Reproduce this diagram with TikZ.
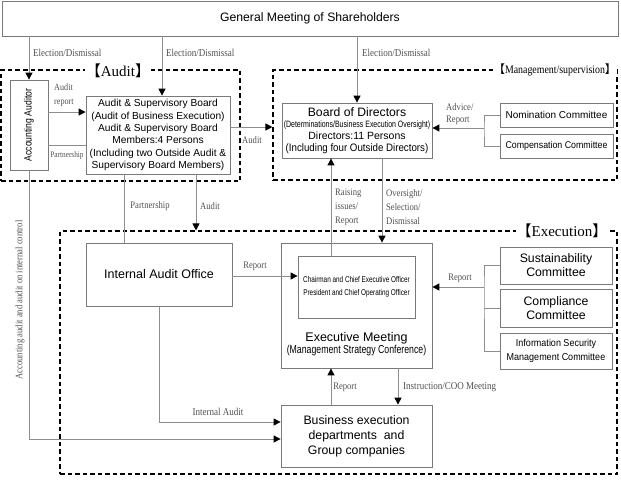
\documentclass[tikz,border=0pt]{standalone}
\usepackage{fontspec}
\setmainfont{Liberation Serif}
\setsansfont{Liberation Sans}
\newfontfamily\lblfont[FakeStretch=0.86]{Liberation Serif}
\newfontfamily\condfont[FakeStretch=0.76]{Liberation Sans}
\newfontfamily\semifont[FakeStretch=0.9]{Liberation Sans}
\newfontfamily\acfont[FakeStretch=0.82]{Liberation Sans}
\newfontfamily\cjkfont{Noto Sans CJK JP}
\usetikzlibrary{arrows.meta}
\definecolor{boxgray}{HTML}{7A7A7A}
\definecolor{linegray}{HTML}{8E8E8E}
\definecolor{labelgray}{HTML}{505050}
\tikzset{
  box/.style={draw=boxgray, line width=0.8pt, fill=white, align=center, inner sep=0pt,
    font=\sffamily\fontsize{10.5}{12.6}\selectfont},
  grp/.style={draw=black, line width=1.1pt, dash pattern=on 4.5pt off 3pt, inner sep=0pt},
  ln/.style={draw=linegray, line width=1pt},
  arr/.style={ln, -{Triangle[length=7pt,width=7pt,color=black]}},
  lbl/.style={font=\lblfont\fontsize{10.5}{13}\selectfont, text=labelgray, inner sep=0pt, align=left},
  ttl/.style={fill=white, inner sep=1pt, text=black},
}
\begin{document}
\begin{tikzpicture}[x=1pt,y=-1pt]
\useasboundingbox (0,0) rectangle (621,480);
% groups
\node[grp, minimum width=239pt, minimum height=111pt] (auditgrp) at (120.5,125.5) {};
\node[grp, minimum width=344pt, minimum height=110pt] (mgmtgrp) at (445,125) {};
\node[grp, minimum width=557pt, minimum height=243pt] (execgrp) at (338.5,352.5) {};
% boxes
\node[box, minimum width=616pt, minimum height=35pt, font=\sffamily\fontsize{12.2}{14}\selectfont] (gm) at (310,18.5) {General Meeting of Shareholders};
\node[box, minimum width=38pt, minimum height=90pt, font=\acfont\fontsize{10.5}{12}\selectfont] (aa) at (29,125) {\rotatebox{90}{Accounting Auditor}};
\node[box, minimum width=144pt, minimum height=78pt, font=\sffamily\fontsize{10.2}{12.4}\selectfont] (asb) at (158,135) {Audit \& Supervisory Board\\(Audit of Business Execution)\\Audit \& Supervisory Board\\Members:4 Persons\\(Including two Outside Audit \&\\Supervisory Board Members)};
\node[box, minimum width=150pt, minimum height=55pt] (bod) at (357,130.5) {{\fontsize{12.2}{13}\selectfont Board of Directors}\\[-1.5pt]{\condfont\fontsize{9.2}{11}\selectfont (Determinations/Business Execution Oversight)}\\[-0.5pt]Directors:11 Persons\\[-0.5pt]{\semifont\fontsize{10.8}{12}\selectfont (Including four Outside Directors)}};
\node[box, minimum width=113pt, minimum height=24pt, font=\sffamily\fontsize{10}{12}\selectfont] (nom) at (556.5,115) {Nomination Committee};
\node[box, minimum width=113pt, minimum height=24pt, font=\semifont\fontsize{9.8}{12}\selectfont] (comp) at (556.5,146) {Compensation Committee};
\node[box, minimum width=146pt, minimum height=63pt, font=\sffamily\fontsize{12.5}{14}\selectfont] (iao) at (159,274.5) {Internal Audit Office};
\node[box, minimum width=151pt, minimum height=125pt, text depth=0pt] (em) at (356.5,305.5) {};
\node[box, minimum width=117pt, minimum height=62pt, font=\condfont\fontsize{8.4}{12.5}\selectfont] (ceo) at (356.5,287) {Chairman and Chief Executive Officer\\President and Chief Operating Officer};
\node[inner sep=0pt, align=center, font=\sffamily\fontsize{12.5}{14}\selectfont] (emtxt) at (356.5,344) {Executive Meeting\\[-1.5pt]{\condfont\fontsize{11.5}{13}\selectfont (Management Strategy Conference)}};
\node[box, minimum width=112pt, minimum height=37pt, font=\sffamily\fontsize{12.3}{14}\selectfont] (sus) at (556,265.5) {Sustainability\\Committee};
\node[box, minimum width=112pt, minimum height=38pt, font=\sffamily\fontsize{12.3}{14}\selectfont] (comp2) at (556,308) {Compliance\\Committee};
\node[box, minimum width=112pt, minimum height=36pt, font=\semifont\fontsize{10}{13.5}\selectfont] (info) at (556,351) {Information Security\\Management Committee};
\node[box, minimum width=151pt, minimum height=62pt, font=\sffamily\fontsize{12.3}{15}\selectfont] (be) at (356.5,436) {Business execution\\departments\ \ and\\Group companies};
% titles
\node[ttl, font=\fontsize{15}{17}\selectfont] (t1) at (118,71) {{\cjkfont 【}Audit{\cjkfont 】}};
\node[ttl, font=\lblfont\fontsize{11.5}{13}\selectfont] (t2) at (555,70) {{\cjkfont 【}Management/supervision{\cjkfont 】}};
\node[ttl, font=\fontsize{15}{17}\selectfont] (t3) at (562,231) {{\cjkfont 【}Execution{\cjkfont 】}};
% junctions
\coordinate (mj) at (484,128);
\coordinate (ej) at (484,287);
% connectors
\draw[arr] (gm.south -| aa) -- (aa.north);
\draw[arr] ([xshift=4pt]asb.north |- gm.south) -- ([xshift=4pt]asb.north);
\draw[arr] (bod.north |- gm.south) -- (bod.north);
\draw[arr] (aa.east |- 0,112) -- (asb.west |- 0,112);
\draw[ln] (aa.east |- 0,145) -- (asb.west |- 0,145);
\draw[arr] (asb.east |- 0,127) -- (mgmtgrp.west |- 0,127);
\draw[ln] (nom.west) -| (mj) |- (comp.west);
\draw[arr] (mj) -- (mj -| bod.east);
\draw[arr] ([xshift=38pt]asb.south) -- ([xshift=38pt]asb.south |- execgrp.north);
\draw[ln] ([xshift=-34pt]asb.south) -- ([xshift=-34pt]asb.south |- iao.north);
\draw[arr] ([xshift=-25.5pt]ceo.north) -- ([xshift=-25.5pt]ceo.north |- bod.south);
\draw[arr] ([xshift=25pt]bod.south) -- ([xshift=25pt]bod.south |- em.north);
\draw[arr] (iao.east |- 0,276) -- (ceo.west |- 0,276);
\draw[ln] (sus.west) -| (ej) |- (info.west);
\draw[ln] (comp2.west) -- (comp2.west -| ej);
\draw[arr] (ej) -- (ej -| em.east);
\draw[arr] ([xshift=-25.5pt]be.north) -- ([xshift=-25.5pt]be.north |- em.south);
\draw[arr] ([xshift=41.5pt]em.south) -- ([xshift=41.5pt]em.south |- be.north);
\draw[arr] (iao.south) |- (be.west |- 0,422);
\draw[arr] (aa.south) |- (be.west |- 0,439);
% labels
\node[lbl, anchor=west] (l1) at (33,53) {Election/Dismissal};
\node[lbl, anchor=west] (l2) at (166,53) {Election/Dismissal};
\node[lbl, anchor=west] (l3) at (362,53) {Election/Dismissal};
\node[lbl, anchor=west, font=\lblfont\fontsize{9.5}{13.5}\selectfont] (l4) at (54,95) {Audit\\report};
\node[lbl, font=\lblfont\fontsize{8.5}{10}\selectfont] (l5) at (67,155) {Partnership};
\node[lbl, font=\lblfont\fontsize{10}{12}\selectfont] (l6) at (252,140) {Audit};
\node[lbl, anchor=west, font=\lblfont\fontsize{10}{12}\selectfont] (l7) at (446,114.5) {Advice/\\Report};
\node[lbl, font=\lblfont\fontsize{10}{12}\selectfont] (l8) at (150,206) {Partnership};
\node[lbl, font=\lblfont\fontsize{10}{12}\selectfont] (l9) at (210,206) {Audit};
\node[lbl, anchor=west, font=\lblfont\fontsize{10}{14}\selectfont] (l10) at (335,207) {Raising\\issues/\\Report};
\node[lbl, anchor=west, font=\lblfont\fontsize{10}{14}\selectfont] (l11) at (386,207) {Oversight/\\Selection/\\Dismissal};
\node[lbl, font=\lblfont\fontsize{10}{12}\selectfont] (l12) at (255,266) {Report};
\node[lbl, font=\lblfont\fontsize{10}{12}\selectfont] (l13) at (460,278) {Report};
\node[lbl, font=\lblfont\fontsize{10}{12}\selectfont] (l14) at (345,387) {Report};
\node[lbl, anchor=west] (l15) at (403,387) {Instruction/COO Meeting};
\node[lbl] (l16) at (218,412) {Internal Audit};
\node[lbl, rotate=90, font=\lblfont\fontsize{10}{12}\selectfont] (l17) at (20,300) {Accounting audit and audit on internal control};
\end{tikzpicture}
\end{document}
